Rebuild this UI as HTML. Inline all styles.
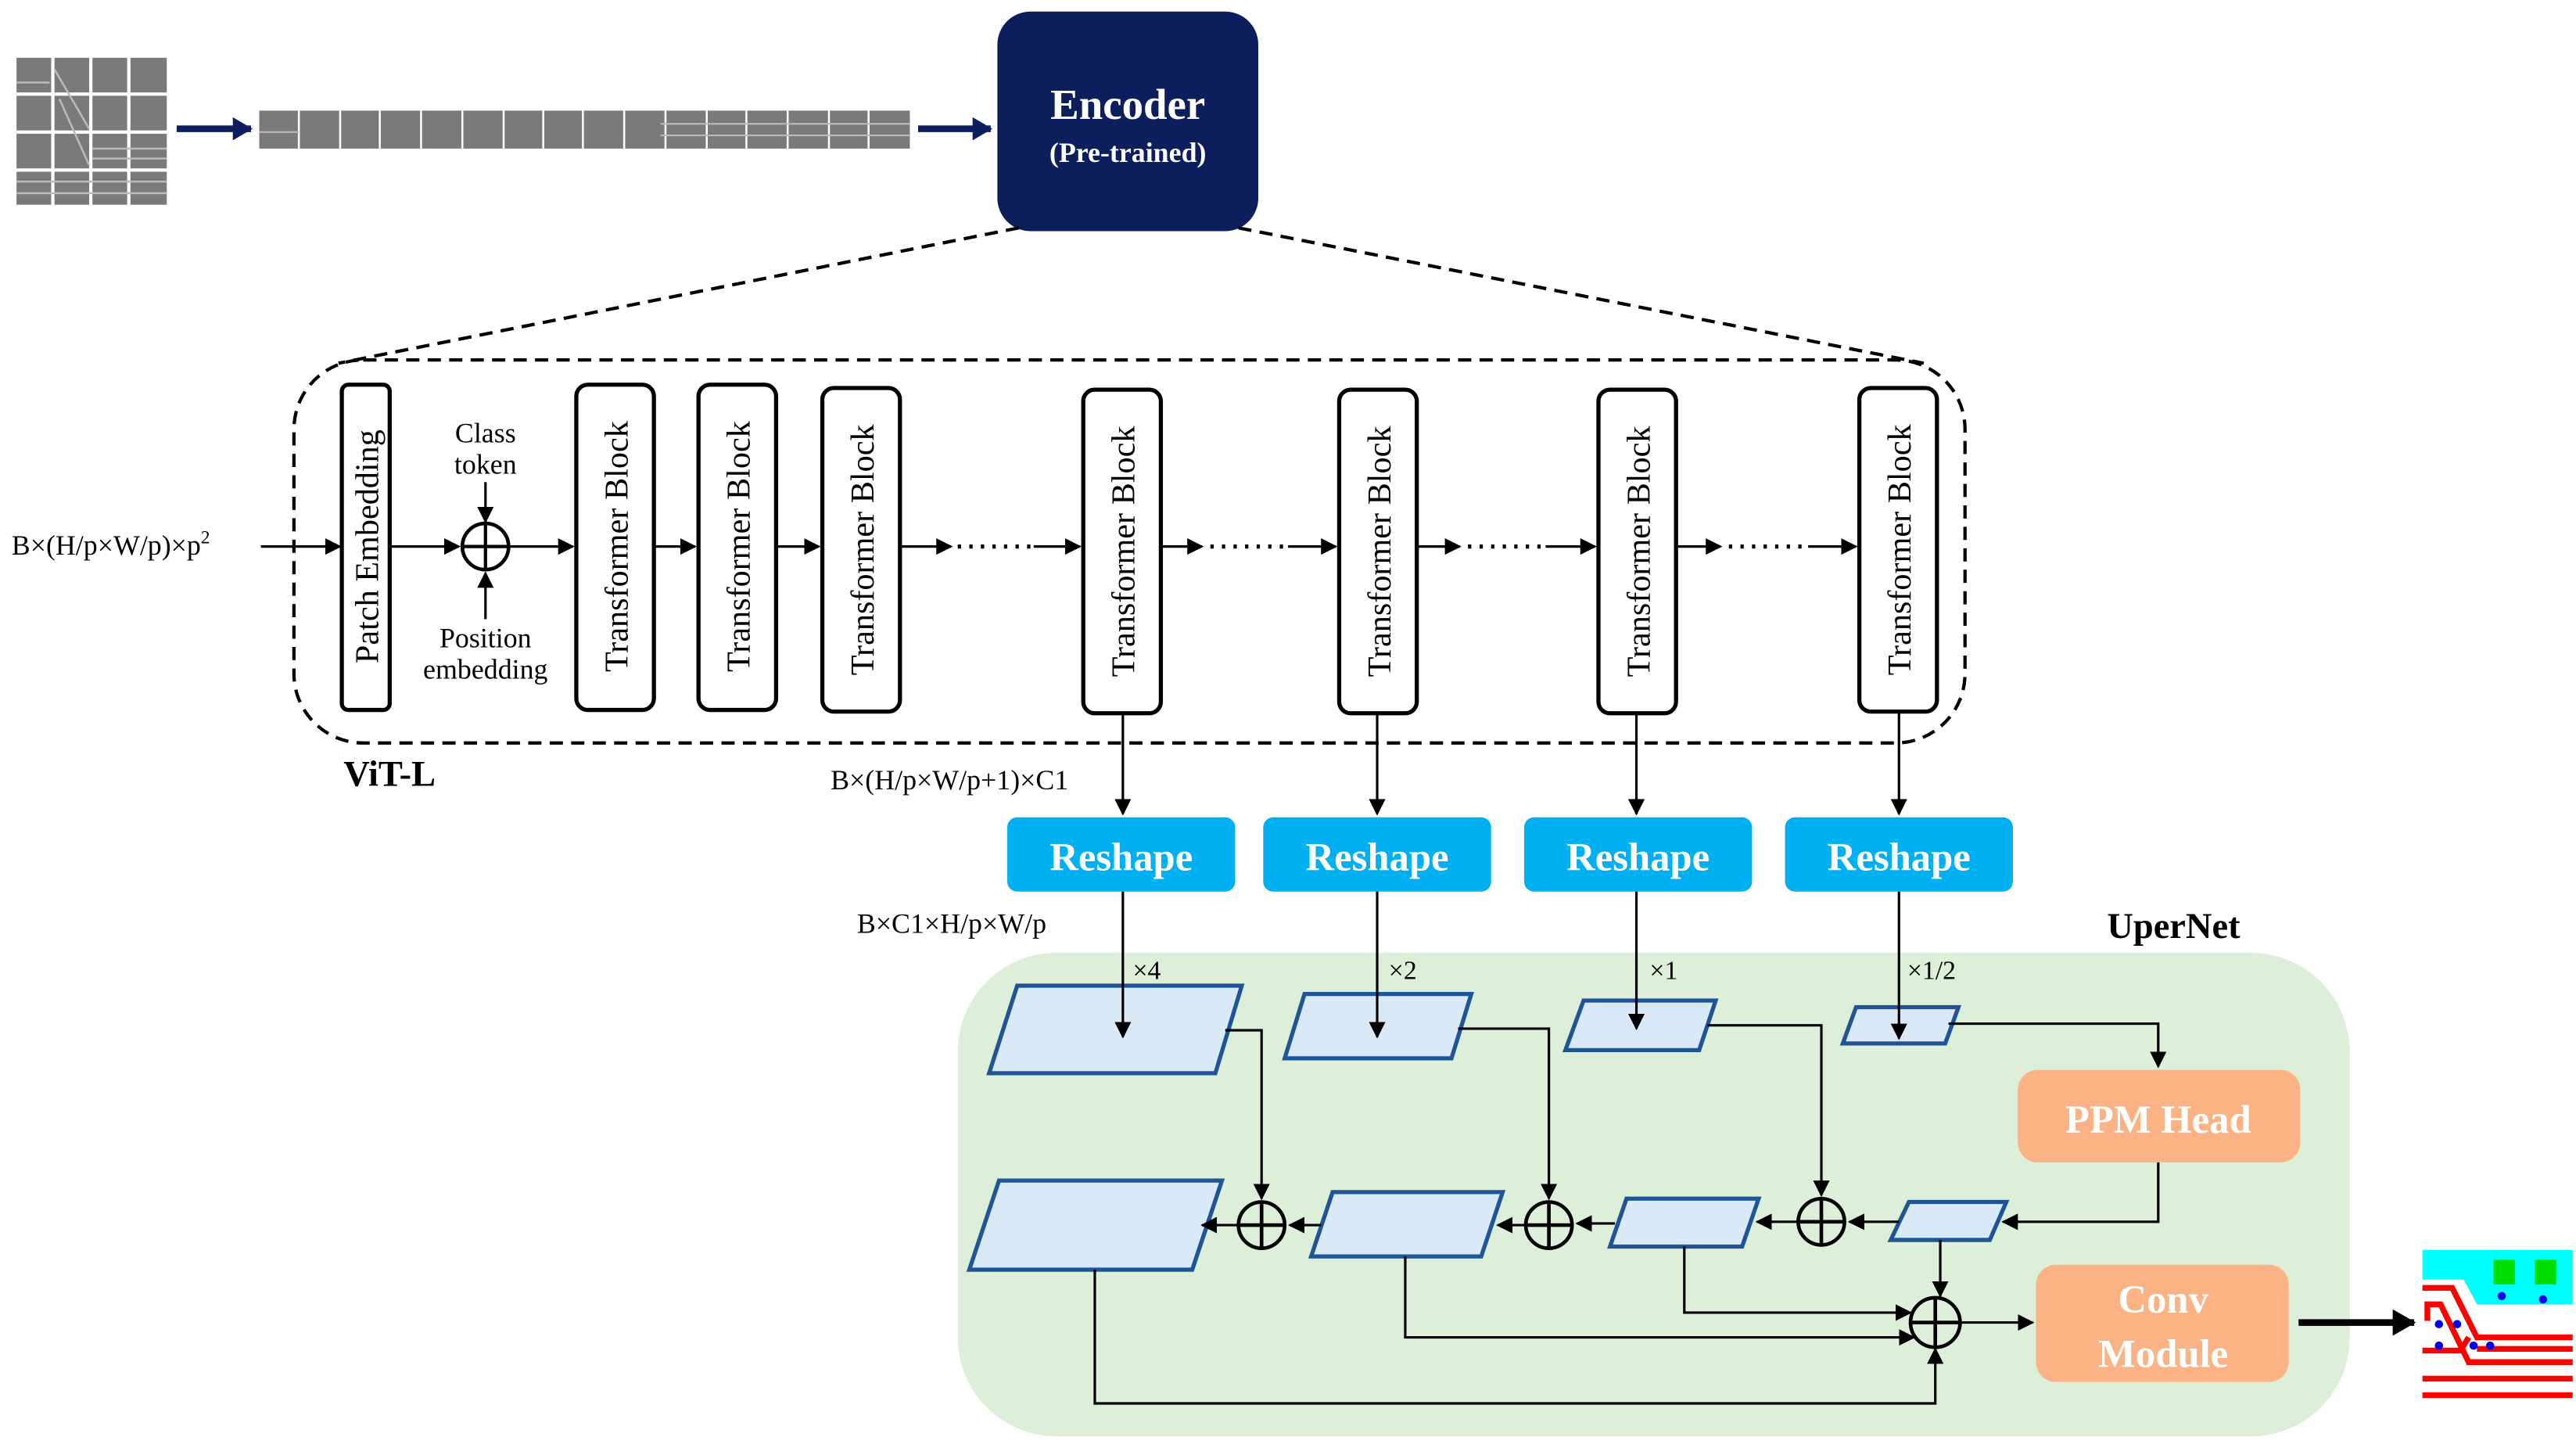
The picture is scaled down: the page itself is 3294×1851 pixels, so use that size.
<!DOCTYPE html>
<html><head><meta charset="utf-8"><style>
html,body{margin:0;padding:0;background:#fff;}
svg{display:block;}
text{font-family:"Liberation Serif",serif;}
</style></head><body>
<svg width="3294" height="1851" viewBox="0 0 1560 877" preserveAspectRatio="none" xmlns="http://www.w3.org/2000/svg">
<defs>
<marker id="a" markerWidth="10" markerHeight="10" refX="9" refY="5" orient="auto" markerUnits="userSpaceOnUse"><path d="M0,0 L10,5 L0,10 z" fill="#000"/></marker>
<marker id="an" markerWidth="12" markerHeight="14" refX="11" refY="7" orient="auto" markerUnits="userSpaceOnUse"><path d="M0,0 L12,7 L0,14 z" fill="#0c1f5c"/></marker>
<marker id="ab" markerWidth="14" markerHeight="16" refX="13" refY="8" orient="auto" markerUnits="userSpaceOnUse"><path d="M0,0 L14,8 L0,16 z" fill="#000"/></marker>
</defs>
<rect width="1560" height="877" fill="#fff"/>
<!-- patch grid -->
<g fill="#7a7a7a">
<rect x="10" y="35" width="91" height="89" fill="#fff"/>
<rect x="10" y="35" width="21" height="21"/><rect x="33" y="35" width="21" height="21"/><rect x="56" y="35" width="21" height="21"/><rect x="79" y="35" width="22" height="21"/>
<rect x="10" y="58" width="21" height="21"/><rect x="33" y="58" width="21" height="21"/><rect x="56" y="58" width="21" height="21"/><rect x="79" y="58" width="22" height="21"/>
<rect x="10" y="81" width="21" height="21"/><rect x="33" y="81" width="21" height="21"/><rect x="56" y="81" width="21" height="21"/><rect x="79" y="81" width="22" height="21"/>
<rect x="10" y="104" width="21" height="20"/><rect x="33" y="104" width="21" height="20"/><rect x="56" y="104" width="21" height="20"/><rect x="79" y="104" width="22" height="20"/>
</g>
<g stroke="#bbb" stroke-width="1.2" fill="none">
<path d="M10,50 H30 M10,110 H101 M10,117 H101 M56,90 H101 M56,96 H101 M33,42 L54,78 M36,60 L54,100"/>
</g>
<line x1="107" y1="78" x2="152" y2="78" stroke="#0c1f5c" stroke-width="4" marker-end="url(#an)"/>
<!-- strip -->
<g fill="#7a7a7a">
<rect x="157" y="67" width="394" height="23"/>
</g>
<g stroke="#fff" stroke-width="1.2">
<path d="M181,67V90 M206,67V90 M230,67V90 M255,67V90 M280,67V90 M305,67V90 M329,67V90 M353,67V90 M378,67V90 M403,67V90 M428,67V90 M452,67V90 M477,67V90 M502,67V90 M526,67V90"/>
</g>
<g stroke="#bbb" stroke-width="1" fill="none"><path d="M400,75 H551 M400,82 H551 M157,80 H181"/></g>
<line x1="556" y1="78" x2="600" y2="78" stroke="#0c1f5c" stroke-width="4" marker-end="url(#an)"/>
<!-- encoder -->
<rect x="604" y="7" width="158" height="133" rx="20" fill="#0c1f5c"/>
<text x="683" y="72" font-size="26" font-weight="bold" fill="#fff" text-anchor="middle">Encoder</text>
<text x="683" y="98" font-size="17" font-weight="bold" fill="#fff" text-anchor="middle">(Pre-trained)</text>
<g stroke="#000" stroke-width="2" stroke-dasharray="8,5" fill="none">
<line x1="617" y1="138" x2="205" y2="220"/>
<line x1="750" y1="138" x2="1165" y2="220"/>
<rect x="178" y="218" width="1012" height="232" rx="42"/>
</g>
<text x="208" y="476" font-size="22" font-weight="bold">ViT-L</text>
<!-- input -->
<text x="7" y="336" font-size="17">B×(H/p×W/p)×p<tspan font-size="11" dy="-7">2</tspan></text>
<line x1="158" y1="331" x2="206" y2="331" stroke="#000" stroke-width="1.5" marker-end="url(#a)"/>
<g stroke="#000" stroke-width="2.5" fill="#fff">
<rect x="207" y="233" width="29" height="197" rx="4"/>
<rect x="349" y="233" width="47" height="197" rx="7"/>
<rect x="423" y="233" width="47" height="197" rx="7"/>
<rect x="498" y="235" width="47" height="196" rx="7"/>
<rect x="656" y="236" width="47" height="196" rx="7"/>
<rect x="811" y="236" width="47" height="196" rx="7"/>
<rect x="968" y="236" width="47" height="196" rx="7"/>
<rect x="1126" y="235" width="47" height="196" rx="7"/>
</g>
<g font-size="20" text-anchor="middle">
<text transform="translate(229,331) rotate(-90)">Patch Embedding</text>
<text transform="translate(380,331) rotate(-90)">Transformer Block</text>
<text transform="translate(454,331) rotate(-90)">Transformer Block</text>
<text transform="translate(529,333) rotate(-90)">Transformer Block</text>
<text transform="translate(687,334) rotate(-90)">Transformer Block</text>
<text transform="translate(842,334) rotate(-90)">Transformer Block</text>
<text transform="translate(999,334) rotate(-90)">Transformer Block</text>
<text transform="translate(1157,333) rotate(-90)">Transformer Block</text>
</g>
<g stroke="#000" stroke-width="1.5" fill="none" marker-end="url(#a)">
<line x1="236" y1="331" x2="278" y2="331"/>
<line x1="294" y1="292" x2="294" y2="316"/>
<line x1="294" y1="375" x2="294" y2="347"/>
<line x1="309" y1="331" x2="347" y2="331"/>
<line x1="396" y1="331" x2="421" y2="331"/>
<line x1="470" y1="331" x2="496" y2="331"/>
<line x1="545" y1="331" x2="576" y2="331"/>
<line x1="626" y1="331" x2="654" y2="331"/>
<line x1="703" y1="331" x2="728" y2="331"/>
<line x1="780" y1="331" x2="809" y2="331"/>
<line x1="858" y1="331" x2="884" y2="331"/>
<line x1="936" y1="331" x2="966" y2="331"/>
<line x1="1015" y1="331" x2="1042" y2="331"/>
<line x1="1095" y1="331" x2="1124" y2="331"/>
<line x1="680" y1="432" x2="680" y2="493"/>
<line x1="834" y1="432" x2="834" y2="493"/>
<line x1="991" y1="432" x2="991" y2="493"/>
<line x1="1150" y1="431" x2="1150" y2="493"/>
</g>
<g stroke="#000" stroke-width="2.5" stroke-dasharray="2,5" fill="none">
<line x1="580" y1="331" x2="626" y2="331"/>
<line x1="733" y1="331" x2="780" y2="331"/>
<line x1="889" y1="331" x2="936" y2="331"/>
<line x1="1047" y1="331" x2="1095" y2="331"/>
</g>
<circle cx="294" cy="331" r="14" fill="#fff" stroke="#000" stroke-width="2.2"/>
<path d="M280,331H308M294,317V345" stroke="#000" stroke-width="2"/>
<g font-size="17" text-anchor="middle">
<text x="294" y="268">Class</text><text x="294" y="287">token</text>
<text x="294" y="392">Position</text><text x="294" y="411">embedding</text>
</g>
<text x="503" y="478" font-size="17">B×(H/p×W/p+1)×C1</text>
<!-- reshape -->
<g fill="#00b0f0">
<rect x="610" y="495" width="138" height="45" rx="6"/>
<rect x="765" y="495" width="138" height="45" rx="6"/>
<rect x="923" y="495" width="138" height="45" rx="6"/>
<rect x="1081" y="495" width="138" height="45" rx="6"/>
</g>
<g font-size="24" font-weight="bold" fill="#fff" text-anchor="middle">
<text x="679" y="527">Reshape</text><text x="834" y="527">Reshape</text><text x="992" y="527">Reshape</text><text x="1150" y="527">Reshape</text>
</g>
<text x="519" y="565" font-size="17">B×C1×H/p×W/p</text>
<text x="1276" y="568" font-size="22" font-weight="bold">UperNet</text>
<!-- green panel -->
<rect x="580" y="577" width="843" height="293" rx="60" fill="#ddeed9"/>
<g font-size="16">
<text x="686" y="593">×4</text><text x="841" y="593">×2</text><text x="999" y="593">×1</text><text x="1155" y="593">×1/2</text>
</g>
<!-- parallelograms -->
<g fill="#dae9f6" stroke="#1f5597" stroke-width="2.5">
<path d="M599,650 L616,597 L752,597 L736,650 Z"/>
<path d="M778,641 L790,602 L891,602 L879,641 Z"/>
<path d="M948,636 L959,606 L1039,606 L1029,636 Z"/>
<path d="M1116,632 L1124,610 L1186,610 L1178,632 Z"/>
<path d="M587,769 L605,715 L740,715 L722,769 Z"/>
<path d="M794,761 L807,722 L910,722 L897,761 Z"/>
<path d="M975,755 L985,726 L1065,726 L1055,755 Z"/>
<path d="M1145,751 L1156,728 L1215,728 L1205,751 Z"/>
</g>
<g stroke="#000" stroke-width="1.5" fill="none" marker-end="url(#a)">
<line x1="680" y1="540" x2="680" y2="628"/>
<line x1="834" y1="540" x2="834" y2="628"/>
<line x1="991" y1="540" x2="991" y2="623"/>
<line x1="1150" y1="540" x2="1150" y2="629"/>
<path d="M742,624 H764 V726"/>
<path d="M883,623 H938 V726"/>
<path d="M1034,621 H1103 V724"/>
<path d="M1180,620 H1307 V646"/>
<path d="M1307,704 V740 H1213"/>
<path d="M1150,740 H1120"/>
<path d="M1088,740 H1064"/>
<path d="M978,741 H955"/>
<path d="M924,742 H907"/>
<path d="M800,742 H781"/>
<path d="M750,742 H728"/>
<path d="M1175,751 V785"/>
<path d="M1020,755 V795 H1157"/>
<path d="M851,761 V810 H1159"/>
<path d="M663,769 V850 H1172 V817"/>
<path d="M1187,801 H1231"/>
</g>
<g fill="none" stroke="#000" stroke-width="2.2">
<circle cx="764" cy="742" r="14"/><path d="M750,742H778M764,728V756"/>
<circle cx="938" cy="742" r="14"/><path d="M924,742H952M938,728V756"/>
<circle cx="1103" cy="740" r="14"/><path d="M1089,740H1117M1103,726V754"/>
<circle cx="1172" cy="801" r="15"/><path d="M1157,801H1187M1172,786V816"/>
</g>
<rect x="1222" y="648" width="171" height="56" rx="12" fill="#fbb385"/>
<text x="1307" y="686" font-size="24" font-weight="bold" fill="#fff" text-anchor="middle">PPM Head</text>
<rect x="1233" y="766" width="153" height="71" rx="12" fill="#fbb385"/>
<text x="1310" y="795" font-size="24" font-weight="bold" fill="#fff" text-anchor="middle">Conv</text>
<text x="1310" y="828" font-size="24" font-weight="bold" fill="#fff" text-anchor="middle">Module</text>
<line x1="1392" y1="801" x2="1462" y2="801" stroke="#000" stroke-width="4" marker-end="url(#ab)"/>
<!-- output -->
<rect x="1467" y="757" width="91" height="91" fill="#fff"/>
<path d="M1467,757 H1558 V790 H1500 L1492,775 H1467 Z" fill="#00ffff"/>
<rect x="1510" y="763" width="13" height="15" fill="#00dd00"/>
<rect x="1535" y="763" width="13" height="15" fill="#00dd00"/>
<g stroke="#f00" stroke-width="3.5" fill="none">
<path d="M1467,780 H1485 L1500,810 H1558"/>
<path d="M1470,800 V790 H1478 L1495,825 H1558"/>
<path d="M1467,818 H1490 L1495,810"/>
<path d="M1467,835 H1558"/><path d="M1467,845 H1558"/>
<path d="M1500,817 H1558"/>
</g>
<g fill="#0000ee"><circle cx="1477" cy="802" r="2.5"/><circle cx="1488" cy="802" r="2.5"/><circle cx="1477" cy="815" r="2.5"/><circle cx="1498" cy="815" r="2.5"/><circle cx="1508" cy="815" r="2.5"/><circle cx="1515" cy="785" r="2.5"/><circle cx="1540" cy="787" r="2.5"/></g>
</svg>
</body></html>
